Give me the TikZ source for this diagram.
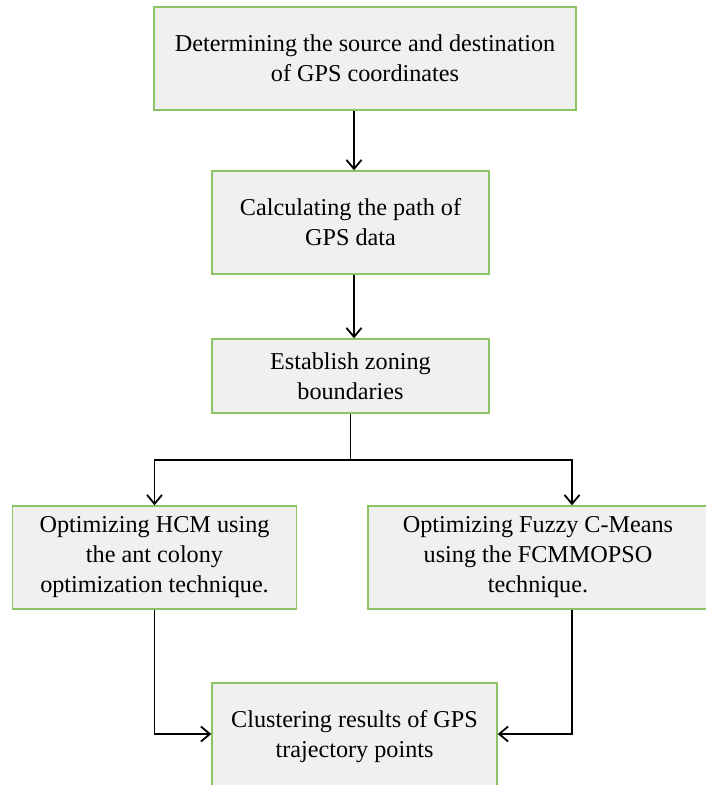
\documentclass[tikz,border=0pt]{standalone}
\usepackage{fontspec}
\setmainfont{Liberation Serif}
\usepackage{tikz}
\usetikzlibrary{arrows.meta,positioning,calc}
\definecolor{boxfill}{RGB}{240,240,240}
\definecolor{boxline}{RGB}{140,195,100}

\begin{document}
\begin{tikzpicture}[x=1pt,y=-1pt,
  stepbox/.style={draw=boxline,line width=1.4pt,fill=boxfill,align=center,
    inner sep=0pt,font=\fontsize{24.2}{30}\selectfont},
  flow/.style={-{Straight Barb[length=9pt,width=15pt,line width=1.8pt]},line width=1.8pt}]
 \useasboundingbox (0,0) rectangle (706,785);
 \clip (0,0) rectangle (706,785);
 \node[stepbox,minimum width=422pt,minimum height=103pt] (src) at (365,58.5)
   {\rule{0pt}{6pt}Determining the source and destination\\of GPS coordinates};
 \node[stepbox,minimum width=277pt,minimum height=103pt] (gpspath) at (350.5,222.5)
   {\rule{0pt}{6pt}Calculating the path of\\GPS data};
 \node[stepbox,minimum width=277pt,minimum height=74pt] (zone) at (350.5,376)
   {Establish zoning\\boundaries};
 \node[stepbox,minimum width=284pt,minimum height=103pt] (hcm) at (154.5,557.5)
   {Optimizing HCM using\\the ant colony\\optimization technique.};
 \node[stepbox,minimum width=340pt,minimum height=103pt] (fcm) at (538,557.5)
   {Optimizing Fuzzy C-Means\\using the FCMMOPSO\\technique.};
 \node[stepbox,minimum width=285pt,minimum height=108pt] (clus) at (354.5,737)
   {Clustering results of GPS\\trajectory points};
 % arrow columns
 \coordinate (mid) at (354,0);
 \coordinate (rgt) at (572,0);
 \coordinate (fork) at ($(zone.south)+(0,46)$);
 \draw[flow] (src.south -| mid) -- (gpspath.north -| mid);
 \draw[flow] (gpspath.south -| mid) -- (zone.north -| mid);
 \draw[flow] (zone.south) -- (fork) -| (hcm.north);
 \draw[flow] (fork) -| (fcm.north -| rgt);
 \draw[flow] (hcm.south) |- ($(clus.west)+(0,-3)$);
 \draw[flow] (fcm.south -| rgt) |- ($(clus.east)+(0,-3)$);
\end{tikzpicture}
\end{document}
